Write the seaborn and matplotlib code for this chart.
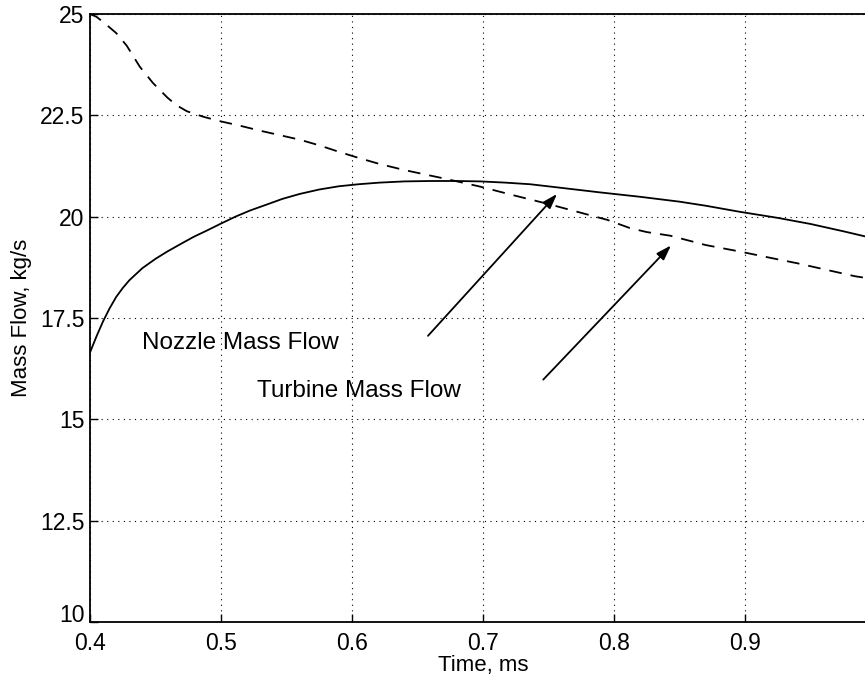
import matplotlib
matplotlib.use("Agg")
import matplotlib.pyplot as plt
import seaborn as sns
import pandas as pd
import numpy as np

# Data
nozzle_t = [0.400, 0.405, 0.410, 0.415, 0.420, 0.425, 0.430, 0.440, 0.450, 0.459,
            0.470, 0.479, 0.490, 0.500, 0.511, 0.522, 0.535, 0.547, 0.560, 0.575,
            0.590, 0.605, 0.621, 0.640, 0.660, 0.680, 0.698, 0.717, 0.736, 0.760,
            0.789, 0.820, 0.850, 0.870, 0.896, 0.925, 0.950, 0.975, 1.000]
nozzle_m = [16.65, 17.05, 17.42, 17.74, 18.02, 18.24, 18.43, 18.73, 18.96, 19.14,
            19.34, 19.50, 19.67, 19.83, 20.00, 20.15, 20.30, 20.44, 20.56, 20.67,
            20.75, 20.80, 20.84, 20.87, 20.88, 20.88, 20.87, 20.84, 20.80, 20.71,
            20.60, 20.49, 20.37, 20.27, 20.12, 19.97, 19.82, 19.64, 19.45]

turbine_t = [0.400, 0.405, 0.412, 0.420, 0.428, 0.438, 0.448, 0.459, 0.466, 0.474,
             0.487, 0.500, 0.515, 0.530, 0.545, 0.560, 0.575, 0.590, 0.605, 0.621,
             0.640, 0.656, 0.672, 0.698, 0.723, 0.749, 0.772, 0.795, 0.812, 0.825,
             0.843, 0.870, 0.896, 0.920, 0.940, 0.962, 0.984, 1.000]
turbine_m = [25.00, 24.93, 24.75, 24.53, 24.22, 23.70, 23.30, 22.94, 22.75, 22.60,
             22.46, 22.35, 22.24, 22.12, 22.01, 21.90, 21.76, 21.60, 21.45, 21.30,
             21.15, 21.04, 20.93, 20.74, 20.53, 20.32, 20.12, 19.92, 19.72, 19.62,
             19.53, 19.30, 19.14, 18.98, 18.85, 18.69, 18.53, 18.45]

x_ticks = [0.4, 0.5, 0.6, 0.7, 0.8, 0.9]
x_tick_labels = ["0.4", "0.5", "0.6", "0.7", "0.8", "0.9"]
y_ticks = [10, 12.5, 15, 17.5, 20, 22.5, 25]
y_tick_labels = ["10", "12.5", "15", "17.5", "20", "22.5", "25"]

label_nozzle = "Nozzle Mass Flow"
label_turbine = "Turbine Mass Flow"
x_label = "Time, ms"
y_label = "Mass Flow, kg/s"

sns.set_style("ticks")
plt.rcParams['font.family'] = ['Liberation Sans', 'DejaVu Sans']
plt.rcParams['text.color'] = 'black'
plt.rcParams['axes.labelcolor'] = 'black'
plt.rcParams['xtick.color'] = 'black'
plt.rcParams['ytick.color'] = 'black'

fig = plt.figure(figsize=(8.65, 6.8), dpi=100)
ax = fig.add_axes([90 / 865, (680 - 622) / 680, (876 - 90) / 865, (622 - 14) / 680])

df_n = pd.DataFrame({"t": nozzle_t, "m": nozzle_m})
df_t = pd.DataFrame({"t": turbine_t, "m": turbine_m})

sns.lineplot(data=df_n, x="t", y="m", ax=ax, color="black", linewidth=1.3,
             estimator=None, sort=False)
sns.lineplot(data=df_t, x="t", y="m", ax=ax, color="black", linewidth=1.3,
             estimator=None, sort=False)
ax.lines[1].set_dashes([7, 5])

ax.set_xlim(0.4, 1.0)
ax.set_ylim(10, 25)
ax.set_xticks(x_ticks)
ax.set_xticklabels(x_tick_labels)
ax.set_yticks(y_ticks)
ax.set_yticklabels(y_tick_labels)

ax.grid(True, color="black", linestyle=(0, (1, 4)), linewidth=0.8)
ax.tick_params(direction="in", length=6, width=1, labelsize=16.5,
               top=False, right=False)
ax.tick_params(axis="x", pad=7)
ax.tick_params(axis="y", pad=4)
for s in ax.spines.values():
    s.set_color("black")
    s.set_linewidth(1.3)

# raise the lowest y tick label like the reference
ax.yaxis.get_major_ticks()[0].label1.set_verticalalignment("baseline")

ax.set_xlabel(x_label, fontsize=16, labelpad=0)
ax.set_ylabel(y_label, fontsize=16, labelpad=6)

ax.text(0.44, 16.89, label_nozzle, fontsize=17.5, ha="left", va="center")
ax.text(0.5275, 15.71, label_turbine, fontsize=17.5, ha="left", va="center")

arrow_style = dict(arrowstyle="-|>,head_length=0.9,head_width=0.3", color="black",
                   lw=1.3, shrinkA=0, shrinkB=0)
ax.annotate("", xy=(0.7565, 20.56), xytext=(0.658, 17.06), arrowprops=arrow_style)
ax.annotate("", xy=(0.8435, 19.29), xytext=(0.746, 15.98), arrowprops=arrow_style)

fig.savefig("out.png", dpi=100)
